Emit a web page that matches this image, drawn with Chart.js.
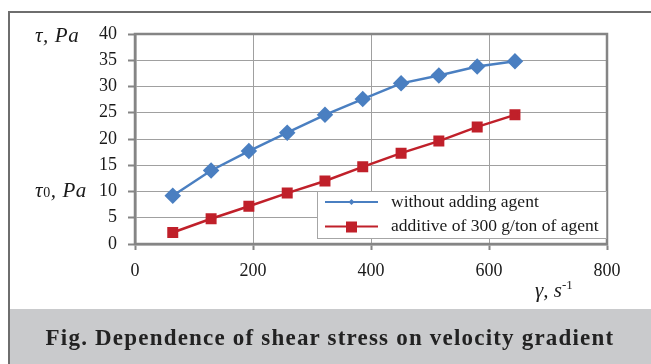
<!DOCTYPE html>
<html>
<head>
<meta charset="utf-8">
<script src="https://cdn.jsdelivr.net/npm/chart.js@4"></script>
<style>
  body { margin: 0; background: #fff; }
  #wrap { position: relative; width: 651px; height: 364px; overflow: hidden; }
  .frame { position: absolute; left: 8px; top: 11px; width: 700px; height: 400px;
           border-top: 2px solid #6e6e6e; border-left: 2px solid #6e6e6e; }
  .band { position: absolute; left: 10px; top: 309px; width: 660px; height: 60px; background: #c9cacc; }
  canvas { position: absolute; left: 0; top: 0; }
  .lbl { position: absolute; font-family: "Liberation Serif", serif; color: #1a1a1a; white-space: nowrap; }
  .ttl { font-style: italic; font-size: 21px; letter-spacing: 0.6px; }
  .cap { left: 0; width: 660px; top: 325px; text-align: center; font-weight: bold; font-size: 23px;
         letter-spacing: 1.2px; color: #222; }
</style>
</head>
<body>
<div id="wrap">
  <div class="frame"></div>
  <div class="band"></div>
  <canvas id="chart" width="651" height="364"></canvas>
  <div class="lbl ttl" style="left:35px; top:23px;">τ, Pa</div>
  <div class="lbl ttl" style="left:35px; top:178px;">τ<span style="font-size:14px; font-style:normal;">0</span>, Pa</div>
  <div class="lbl" style="left:535px; top:277px; font-style:italic; font-size:21px;">γ, s<sup style="font-size:13px; font-style:normal;">-1</sup></div>
  <div class="lbl cap">Fig. Dependence of shear stress on velocity gradient</div>
</div>
<script>
// shear rate, s^-1
const shearRate = [64, 129, 193, 258, 322, 386, 451, 515, 580, 644];
// shear stress, Pa
const stressNoAgent = [9.2, 14.0, 17.7, 21.2, 24.6, 27.6, 30.6, 32.1, 33.8, 34.8];
const stressWithAgent = [2.2, 4.8, 7.2, 9.7, 12.0, 14.7, 17.3, 19.6, 22.3, 24.6];
const seriesNames = ['without adding agent', 'additive of 300 g/ton of agent'];
const xTicks = [0, 200, 400, 600, 800];
const yTicks = [0, 5, 10, 15, 20, 25, 30, 35, 40];

const blue = '#4a7fc1';
const red = '#c0202a';
const axisGray = '#858585';

const pts = (ys) => shearRate.map((x, i) => ({ x: x, y: ys[i] }));

// plot frame + legend box inside the plot
const framePlugin = {
  id: 'framePlugin',
  beforeDatasetsDraw(chart) {
    const a = chart.chartArea, ctx = chart.ctx;
    ctx.save();
    ctx.strokeStyle = axisGray;
    ctx.lineWidth = 2.5;
    ctx.strokeRect(a.left, a.top, a.right - a.left, a.bottom - a.top);
    ctx.restore();
  },
  afterDraw(chart) {
    const ctx = chart.ctx;
    const bx = 317, by = 191, bw = 289, bh = 47;
    ctx.save();
    ctx.fillStyle = '#fff';
    ctx.fillRect(bx, by, bw, bh);
    ctx.strokeStyle = '#a6a6a6';
    ctx.lineWidth = 1;
    ctx.strokeRect(bx + 0.5, by + 0.5, bw, bh);
    chart.data.datasets.forEach((ds, i) => {
      const y = by + 11 + i * 24.5;
      ctx.strokeStyle = ds.borderColor;
      ctx.lineWidth = 2;
      ctx.beginPath();
      ctx.moveTo(325, y);
      ctx.lineTo(378, y);
      ctx.stroke();
      ctx.fillStyle = ds.backgroundColor;
      if (ds.pointStyle === 'rectRot') {
        ctx.beginPath();
        ctx.moveTo(351.5, y - 3); ctx.lineTo(354.5, y); ctx.lineTo(351.5, y + 3); ctx.lineTo(348.5, y);
        ctx.closePath(); ctx.fill();
      } else {
        ctx.fillRect(346, y - 5, 11, 11);
      }
      ctx.fillStyle = '#1a1a1a';
      ctx.font = '17.5px "Liberation Serif"';
      ctx.textBaseline = 'middle';
      ctx.fillText(ds.label, 391, y);
    });
    ctx.restore();
  }
};

new Chart(document.getElementById('chart'), {
  type: 'scatter',
  data: {
    datasets: [
      {
        label: seriesNames[0], data: pts(stressNoAgent), showLine: true,
        borderColor: blue, backgroundColor: blue, borderWidth: 2.5,
        pointStyle: 'rectRot', pointRadius: 6.5, pointHoverRadius: 6.5, tension: 0
      },
      {
        label: seriesNames[1], data: pts(stressWithAgent), showLine: true,
        borderColor: red, backgroundColor: red, borderWidth: 2.5,
        pointStyle: 'rect', pointRadius: 6, pointHoverRadius: 6, tension: 0
      }
    ]
  },
  options: {
    responsive: false,
    animation: false,
    layout: { padding: { left: 0, right: 44, top: 34, bottom: 0 } },
    plugins: { legend: { display: false }, tooltip: { enabled: false } },
    scales: {
      x: {
        type: 'linear', min: xTicks[0], max: xTicks[xTicks.length - 1],
        afterBuildTicks: (s) => { s.ticks = xTicks.map(v => ({ value: v })); },
        afterFit: (s) => { s.height = 120; },
        grid: { color: '#a0a0a0', lineWidth: 1, tickColor: axisGray, tickWidth: 2, tickLength: 6, drawTicks: true },
        border: { display: true, color: axisGray, width: 2.5 },
        ticks: { padding: 10, color: '#1a1a1a', font: { family: 'Liberation Serif', size: 18 } }
      },
      y: {
        type: 'linear', min: yTicks[0], max: yTicks[yTicks.length - 1],
        afterBuildTicks: (s) => { s.ticks = yTicks.map(v => ({ value: v })); },
        afterFit: (s) => { s.width = 135; },
        grid: { color: '#a0a0a0', lineWidth: 1, tickColor: axisGray, tickWidth: 2, tickLength: 7, drawTicks: true },
        border: { display: true, color: axisGray, width: 2.5 },
        ticks: { padding: 11, color: '#1a1a1a', font: { family: 'Liberation Serif', size: 18 } }
      }
    }
  },
  plugins: [framePlugin]
});
</script>
</body>
</html>
